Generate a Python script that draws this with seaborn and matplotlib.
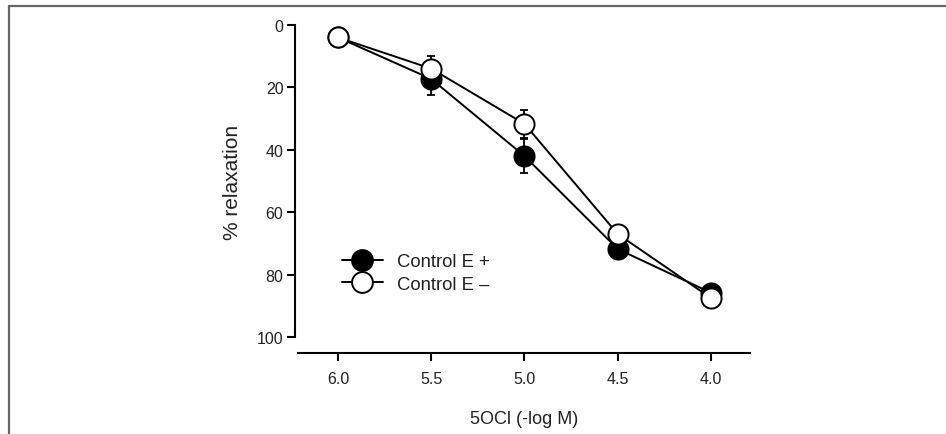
import matplotlib
matplotlib.use("Agg")
import matplotlib.pyplot as plt
import seaborn as sns
import pandas as pd
import numpy as np
from matplotlib.lines import Line2D

# ---- data ----
conc = [6.0, 5.5, 5.0, 4.5, 4.0]
e_plus = [4.0, 17.3, 42.0, 71.8, 85.8]
e_plus_err = [0.0, 5.0, 5.5, 2.0, 1.0]
e_minus = [4.0, 14.0, 31.7, 67.0, 87.5]
e_minus_err = [0.0, 4.0, 4.5, 1.5, 1.0]
series = ["Control E +", "Control E \u2013"]
xticks = [6.0, 5.5, 5.0, 4.5, 4.0]
yticks = [0, 20, 40, 60, 80, 100]

df = pd.DataFrame({
    "conc": conc * 2,
    "val": e_plus + e_minus,
    "err": e_plus_err + e_minus_err,
    "series": [series[0]] * len(conc) + [series[1]] * len(conc),
})

sns.set_style("ticks")
plt.rcParams["font.family"] = ["Liberation Sans", "DejaVu Sans"]

fig = plt.figure(figsize=(9.46, 4.35), dpi=100)
ax = fig.add_axes([298 / 946, 1 - 354 / 435, (750 - 298) / 946, (354 - 20) / 435])

face = {series[0]: "black", series[1]: "white"}
for i, s in enumerate(series):
    d = df[df["series"] == s]
    z = 3 + 2 * i
    ax.errorbar(d["conc"], d["val"], yerr=d["err"], fmt="none", ecolor="black",
                elinewidth=1.3, capsize=2.8, capthick=1.3, zorder=z)
    sns.lineplot(data=d, x="conc", y="val", ax=ax, color="black", lw=1.4,
                 marker="o", markersize=14.5, markerfacecolor=face[s],
                 markeredgecolor="black", markeredgewidth=1.4, zorder=z + 1,
                 legend=False, errorbar=None, sort=False)

ax.set_xlim(6.214, 3.791)
ax.set_ylim(105.1, -1.9)
ax.set_xticks(xticks)
ax.set_xticklabels([f"{t:.1f}" for t in xticks])
ax.set_yticks(yticks)
ax.spines["top"].set_visible(False)
ax.spines["right"].set_visible(False)
ax.spines["left"].set_bounds(0, 100)
ax.spines["left"].set_position(("outward", 2.5))
for sp in ["left", "bottom"]:
    ax.spines[sp].set_linewidth(1.5)
    ax.spines[sp].set_color("black")
ax.tick_params(axis="both", length=6, width=1.5, labelsize=11.5, color="black",
               labelcolor="#222222")
ax.tick_params(axis="x", pad=7)
ax.tick_params(axis="y", pad=2)
ax.set_xlabel("5OCl (-log M)", fontsize=13, color="#222222", labelpad=17)
ax.set_ylabel("% relaxation", fontsize=15, color="#222222", labelpad=11)
ax.yaxis.label.set_y((354 - 182) / 334)

handles = [Line2D([], [], color="black", lw=1.4, marker="o", markersize=15,
                  markerfacecolor=face[s], markeredgecolor="black",
                  markeredgewidth=1.4) for s in series]
leg = ax.legend(handles, series, loc="center left",
                bbox_to_anchor=((342 - 298) / 452, (354 - 274) / 334),
                frameon=False, fontsize=13.3, handlelength=2.2, borderpad=0,
                handletextpad=0.8, labelspacing=0.28, borderaxespad=0)
for t in leg.get_texts():
    t.set_color("#222222")

# outer frame lines (top and left)
fig.add_artist(Line2D([8.5 / 946, 8.5 / 946], [0, 1 - 6.5 / 435], color="#666666",
                      lw=1.6, transform=fig.transFigure))
fig.add_artist(Line2D([8.5 / 946, 1], [1 - 6.5 / 435, 1 - 6.5 / 435], color="#666666",
                      lw=1.6, transform=fig.transFigure))

fig.savefig("out.png", dpi=100)
